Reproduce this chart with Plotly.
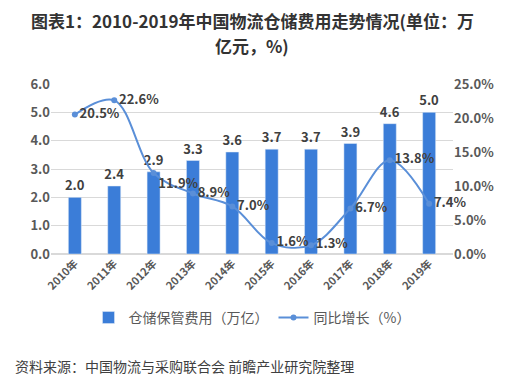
import plotly.graph_objects as go

years = ["2010年", "2011年", "2012年", "2013年", "2014年", "2015年", "2016年", "2017年", "2018年", "2019年"]
cost = [2.0, 2.4, 2.9, 3.3, 3.6, 3.7, 3.7, 3.9, 4.6, 5.0]
growth = [20.5, 22.6, 11.9, 8.9, 7.0, 1.6, 1.3, 6.7, 13.8, 7.4]
left_ticks = [0, 1, 2, 3, 4, 5, 6]
right_ticks = [0, 5, 10, 15, 20, 25]

FONT = "Noto Sans CJK SC, Noto Sans, sans-serif"
bar_color = "#3b7dd8"
line_color = "#5a8fd8"

label_pos = ["middle right"] * len(years)
label_pos[2] = "bottom right"

fig = go.Figure()
fig.add_trace(go.Bar(
    x=years, y=cost, name="仓储保管费用（万亿）",
    marker_color=bar_color, width=0.33,
    text=[f"{v:.1f}" for v in cost], textposition="outside", constraintext="none",
    textfont=dict(size=13, color="#404040", family=FONT, weight="bold"),
    cliponaxis=False,
))
fig.add_trace(go.Scatter(
    x=years, y=growth, name="同比增长（%）", yaxis="y2",
    mode="lines+markers+text", line=dict(color=line_color, width=2, shape="spline"),
    marker=dict(size=6, color=line_color),
    text=[f"{v:.1f}%" for v in growth], textposition=label_pos,
    textfont=dict(size=13, color="#404040", family=FONT, weight="bold"),
    cliponaxis=False,
))

fig.update_layout(
    width=505, height=382,
    margin=dict(l=43, r=60, t=76, b=136, autoexpand=False),
    paper_bgcolor="white", plot_bgcolor="white",
    font=dict(family=FONT, color="#595959"),
    xaxis=dict(tickangle=-45, tickfont=dict(size=11, color="#595959", weight="bold"), showgrid=False,
               showline=False, ticks="", automargin=False),
    yaxis=dict(range=[0, 6], tickvals=left_ticks, tickformat=".1f", automargin=False,
               tickfont=dict(size=13, color="#595959", weight="bold"), gridcolor="#d9d9d9",
               zeroline=True, zerolinecolor="#d9d9d9", showline=False),
    yaxis2=dict(range=[0, 25], tickvals=right_ticks, automargin=False,
                ticktext=[f"{v:.1f}%" for v in right_ticks],
                overlaying="y", side="right", showgrid=False, zeroline=False,
                tickfont=dict(size=13, color="#595959", weight="bold")),
    legend=dict(orientation="h", x=0.5, xanchor="center", y=-0.376, yanchor="middle",
                font=dict(size=14, color="#595959"), itemwidth=30),
    showlegend=True,
)
fig.add_annotation(text="<b>图表1：2010-2019年中国物流仓储费用走势情况(单位：万</b>",
                   xref="paper", yref="paper", x=0.5, y=1.375, xanchor="center", yanchor="middle",
                   showarrow=False, borderpad=0, font=dict(size=17, color="#333333", family=FONT))
fig.add_annotation(text="<b>亿元，%)</b>",
                   xref="paper", yref="paper", x=0.5, y=1.225, xanchor="center", yanchor="middle",
                   showarrow=False, borderpad=0, font=dict(size=17, color="#333333", family=FONT))
fig.add_annotation(text="资料来源：中国物流与采购联合会 前瞻产业研究院整理",
                   xref="paper", yref="paper", x=-0.095, y=-0.66, xanchor="left", yanchor="middle",
                   showarrow=False, font=dict(size=14, color="#404040", family=FONT))

fig.write_html("out.html")
